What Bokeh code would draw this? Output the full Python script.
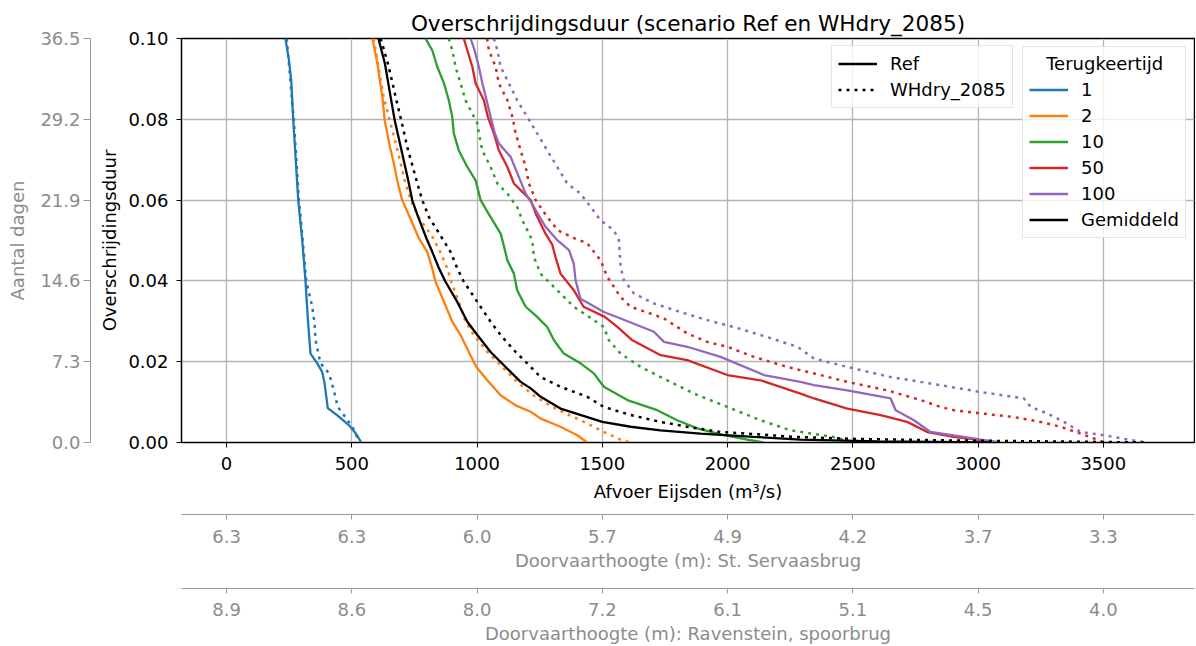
from bokeh.plotting import figure
from bokeh.models import Range1d, LinearAxis, FixedTicker, PrintfTickFormatter, Legend, LegendItem
from bokeh.embed import file_html
from bokeh.resources import INLINE

FONT = "DejaVu Sans"
GRAY = "#8c8c8c"

# ---------------- data ----------------
x_ticks = [0, 500, 1000, 1500, 2000, 2500, 3000, 3500]
y_ticks = [0.0, 0.02, 0.04, 0.06, 0.08, 0.10]
day_ticks = [0.0, 7.3, 14.6, 21.9, 29.2, 36.5]
servaas_labels = ["6.3", "6.3", "6.0", "5.7", "4.9", "4.2", "3.7", "3.3"]
ravenstein_labels = ["8.9", "8.6", "8.0", "7.2", "6.1", "5.1", "4.5", "4.0"]

return_periods = ["1", "2", "10", "50", "100"]

# Ref scenario: discharge (m3/s) and exceedance duration (fraction of year)
ref_q_1 = [235, 249, 258, 266, 276, 286, 302, 315, 325, 335, 362, 382, 391, 404, 442, 488, 515, 538]
ref_d_1 = [0.1, 0.0946, 0.0897, 0.08, 0.07, 0.06, 0.05, 0.04, 0.03, 0.022, 0.0196, 0.0174, 0.0147, 0.0085, 0.0067, 0.0043, 0.0023, 0.0]

ref_q_2 = [582, 602, 622, 631, 652, 668, 681, 701, 731, 768, 801, 821, 834, 868, 901, 934, 967, 997, 1047, 1094,
           1154, 1214, 1254, 1333, 1400, 1440]
ref_d_2 = [0.1, 0.0938, 0.0855, 0.0798, 0.0732, 0.069, 0.0649, 0.06, 0.0558, 0.0505, 0.0472, 0.0431, 0.0398, 0.0348,
           0.0299, 0.0266, 0.0224, 0.0187, 0.015, 0.0117, 0.0092, 0.0076, 0.0059, 0.0039, 0.0018, 0.0]

ref_q_10 = [794, 821, 841, 868, 887, 901, 907, 927, 961, 994, 1014, 1054, 1094, 1101, 1121, 1147, 1160, 1194, 1240, 1280,
            1307, 1346, 1413, 1466, 1506, 1600, 1719, 1799, 1879, 1985, 2079, 2145]
ref_d_10 = [0.1, 0.0971, 0.093, 0.0889, 0.0847, 0.0806, 0.0765, 0.0723, 0.0682, 0.0649, 0.06, 0.0558, 0.0517, 0.0501,
            0.0451, 0.0418, 0.0377, 0.0336, 0.0311, 0.0286, 0.0253, 0.022, 0.0196, 0.0171, 0.0138, 0.0105, 0.008,
            0.0055, 0.0035, 0.0018, 0.0007, 0.0]

ref_q_50 = [947, 961, 981, 994, 1027, 1043, 1067, 1087, 1121, 1147, 1214, 1234, 1273, 1300, 1313, 1333, 1386, 1425, 1510, 1560,
            1620, 1733, 1839, 1999, 2132, 2291, 2345, 2478, 2611, 2717, 2797, 2903, 3010, 3063]
ref_d_50 = [0.1, 0.0971, 0.093, 0.0889, 0.0847, 0.0806, 0.0765, 0.0723, 0.0682, 0.0641, 0.06, 0.0567, 0.0517, 0.049,
            0.0459, 0.0418, 0.0377, 0.0336, 0.0311, 0.0286, 0.0253, 0.0216, 0.0204, 0.0167, 0.0154, 0.0121, 0.0109,
            0.0084, 0.0068, 0.0051, 0.0026, 0.0014, 0.0006, 0.0]

ref_q_100 = [974, 990, 1007, 1021, 1038, 1054, 1071, 1087, 1134, 1167, 1194, 1227, 1273, 1320, 1367, 1386, 1393, 1413, 1506, 1573,
             1706, 1746, 1839, 1972, 2145, 2291, 2345, 2478, 2651, 2671, 2744, 2810, 2943, 3010, 3090]
ref_d_100 = [0.1, 0.0971, 0.093, 0.0889, 0.0847, 0.0806, 0.0765, 0.074, 0.0707, 0.0657, 0.0616, 0.0583, 0.0534, 0.0501,
             0.0476, 0.0443, 0.0402, 0.0356, 0.0323, 0.0307, 0.0274, 0.0249, 0.0237, 0.0212, 0.0167, 0.015, 0.0142,
             0.0129, 0.0109, 0.008, 0.0055, 0.0026, 0.0014, 0.0007, 0.0]

ref_q_mean = [606, 632, 655, 671, 695, 725, 741, 765, 798, 821, 848, 874, 921, 961, 1001, 1054, 1114, 1174, 1214, 1254,
              1333, 1440, 1500, 1613, 1732, 1892, 2104, 2291, 2600, 3050]
ref_d_mean = [0.1, 0.0938, 0.0855, 0.0798, 0.0732, 0.0649, 0.06, 0.0558, 0.0505, 0.0472, 0.0431, 0.0398, 0.0348, 0.0299,
              0.0266, 0.0224, 0.0187, 0.015, 0.0134, 0.0113, 0.0084, 0.0063, 0.0051, 0.0039, 0.003, 0.0022, 0.0014,
              0.0007, 0.0003, 0.0]

# WHdry_2085 scenario
wh_q_1 = [240, 268, 289, 304, 318, 342, 351, 355, 375, 409, 428, 444, 468, 502, 515, 528]
wh_d_1 = [0.1, 0.08, 0.06, 0.05, 0.04, 0.0336, 0.0295, 0.0253, 0.0196, 0.0171, 0.0129, 0.0088, 0.0068, 0.0039, 0.0023, 0.0]

wh_q_2 = [587, 627, 651, 679, 711, 735, 766, 826, 854, 881, 897, 927, 954, 987, 1041, 1101, 1160, 1233, 1313, 1440,
          1506, 1573, 1613]
wh_d_2 = [0.1, 0.0855, 0.0798, 0.0732, 0.0649, 0.06, 0.0558, 0.0505, 0.047, 0.0431, 0.0398, 0.0348, 0.0299, 0.0266,
          0.0224, 0.0187, 0.015, 0.0113, 0.0084, 0.0047, 0.0026, 0.0007, 0.0]

wh_q_10 = [887, 901, 914, 934, 954, 981, 1001, 1007, 1021, 1054, 1081, 1121, 1160, 1181, 1207, 1220, 1227, 1253, 1320, 1386,
           1466, 1506, 1526, 1573, 1653, 1759, 1866, 1999, 2132, 2252, 2420, 2503]
wh_d_10 = [0.1, 0.0971, 0.093, 0.0889, 0.0847, 0.0814, 0.079, 0.0765, 0.0723, 0.0682, 0.0641, 0.0616, 0.0583, 0.055,
           0.0517, 0.0501, 0.0459, 0.0418, 0.0377, 0.0336, 0.0303, 0.0286, 0.0253, 0.022, 0.0187, 0.0154, 0.0121,
           0.0088, 0.0055, 0.003, 0.0014, 0.0]

wh_q_50 = [1040, 1047, 1074, 1087, 1121, 1141, 1154, 1174, 1194, 1207, 1234, 1280, 1323, 1390, 1440, 1493, 1520, 1573, 1613, 1693,
           1746, 1839, 1919, 1999, 2105, 2238, 2345, 2478, 2638, 2771, 2850, 2903, 3010, 3143, 3249, 3329, 3409, 3462, 3502]
wh_d_50 = [0.1, 0.0971, 0.093, 0.0889, 0.0847, 0.0806, 0.0765, 0.0723, 0.0682, 0.0641, 0.06, 0.0558, 0.0525, 0.0505,
           0.0493, 0.0451, 0.041, 0.036, 0.0336, 0.0319, 0.0307, 0.027, 0.0249, 0.0237, 0.0212, 0.0187, 0.0171, 0.015,
           0.0129, 0.0105, 0.0088, 0.008, 0.0072, 0.0063, 0.0051, 0.0039, 0.0022, 0.001, 0.0]

wh_q_100 = [1067, 1081, 1094, 1127, 1160, 1200, 1240, 1280, 1320, 1360, 1413, 1453, 1493, 1546, 1566, 1573, 1586, 1626, 1706, 1812,
            1919, 2025, 2158, 2278, 2345, 2478, 2651, 2810, 3010, 3183, 3210, 3276, 3343, 3409, 3502, 3609, 3675]
wh_d_100 = [0.1, 0.0971, 0.093, 0.0889, 0.0847, 0.0806, 0.0765, 0.0723, 0.0682, 0.0641, 0.0616, 0.0583, 0.055, 0.0525,
            0.0501, 0.0435, 0.0402, 0.0369, 0.0344, 0.0323, 0.0303, 0.0286, 0.0261, 0.0237, 0.0208, 0.0187, 0.0162,
            0.0146, 0.0125, 0.0109, 0.0088, 0.0072, 0.0051, 0.0026, 0.0018, 0.0006, 0.0]

wh_q_mean = [615, 644, 675, 697, 721, 758, 781, 808, 861, 894, 921, 947, 1001, 1054, 1094, 1154, 1200, 1253, 1333, 1440,
             1506, 1613, 1732, 1839, 1972, 2104, 2263, 2500, 2900, 3400, 3680]
wh_d_mean = [0.1, 0.0938, 0.0855, 0.0798, 0.0732, 0.0649, 0.06, 0.0558, 0.0505, 0.0472, 0.0431, 0.0398, 0.0348, 0.0299,
             0.0266, 0.0224, 0.0196, 0.0162, 0.0138, 0.0113, 0.0088, 0.0068, 0.0051, 0.0039, 0.0026, 0.0021, 0.0014,
             0.0009, 0.0005, 0.0002, 0.0]

colors = ["#1f77b4", "#ff7f0e", "#2ca02c", "#d62728", "#9467bd"]
ref_series = [(ref_q_1, ref_d_1), (ref_q_2, ref_d_2), (ref_q_10, ref_d_10), (ref_q_50, ref_d_50), (ref_q_100, ref_d_100)]
wh_series = [(wh_q_1, wh_d_1), (wh_q_2, wh_d_2), (wh_q_10, wh_d_10), (wh_q_50, wh_d_50), (wh_q_100, wh_d_100)]

# ---------------- figure ----------------
p = figure(frame_width=1013, frame_height=404,
           x_range=Range1d(-180, 3864), y_range=Range1d(0, 0.1),
           output_backend="svg", toolbar_location=None,
           min_border_left=181, min_border_right=1, min_border_top=38, min_border_bottom=0,
           background_fill_color="white", border_fill_color="white",
           outline_line_color="black", outline_line_width=1.5)
p.extra_y_ranges = {"days": Range1d(0, 36.5)}

p.title.text = "Overschrijdingsduur (scenario Ref en WHdry_2085)"
p.title.align = "center"
p.title.text_font = FONT
p.title.text_font_size = "21.6px"
p.title.text_font_style = "normal"
p.title.text_color = "black"
p.title.standoff = 6

for g in (p.xgrid[0], p.ygrid[0]):
    g.grid_line_color = "#b4b4b4"
    g.grid_line_width = 1.3
p.xgrid[0].ticker = FixedTicker(ticks=x_ticks)
p.ygrid[0].ticker = FixedTicker(ticks=y_ticks)

xa = p.below[0]
ya = p.left[0]

def style_axis(ax, color, line_color, tick_color):
    ax.axis_line_color = line_color
    ax.major_tick_line_color = tick_color
    ax.minor_tick_line_color = None
    ax.major_tick_out = 5
    ax.major_tick_in = 0
    ax.major_label_text_font = FONT
    ax.major_label_text_font_size = "18px"
    ax.major_label_text_color = color
    ax.axis_label_text_font = FONT
    ax.axis_label_text_font_size = "18px"
    ax.axis_label_text_font_style = "normal"
    ax.axis_label_text_color = color

style_axis(xa, "black", "black", "black")
xa.ticker = FixedTicker(ticks=x_ticks)
xa.axis_label = "Afvoer Eijsden (m³/s)"
xa.major_label_standoff = 9
xa.axis_label_standoff = 8

style_axis(ya, "black", "black", "black")
ya.ticker = FixedTicker(ticks=y_ticks)
ya.formatter = PrintfTickFormatter(format="%.2f")
ya.axis_label = "Overschrijdingsduur"
ya.major_label_standoff = 8
ya.axis_label_standoff = 5


def spacer(size):
    return LinearAxis(ticker=FixedTicker(ticks=[]), axis_line_color=None,
                      major_tick_line_color=None, minor_tick_line_color=None,
                      major_tick_out=0, major_tick_in=0, minor_tick_out=0, minor_tick_in=0,
                      major_label_standoff=0, axis_label="\u00a0", axis_label_text_alpha=0,
                      axis_label_text_font_size=f"{size}px", axis_label_standoff=0)

# left: days axis
days_ax = LinearAxis(y_range_name="days", ticker=FixedTicker(ticks=day_ticks),
                     formatter=PrintfTickFormatter(format="%.1f"))
style_axis(days_ax, GRAY, "#9a9a9a", "#9a9a9a")
days_ax.major_tick_out = 7
days_ax.major_label_standoff = 3
days_ax.axis_label = "Aantal dagen"
days_ax.axis_label_standoff = 9
p.add_layout(spacer(3), "left")
p.add_layout(days_ax, "left")

# bottom: bridge clearance axes
servaas_ax = LinearAxis(ticker=FixedTicker(ticks=x_ticks),
                        major_label_overrides={t: l for t, l in zip(x_ticks, servaas_labels)})
style_axis(servaas_ax, GRAY, "#9a9a9a", "#9a9a9a")
servaas_ax.axis_label = "Doorvaarthoogte (m): St. Servaasbrug"
servaas_ax.major_label_standoff = 10
servaas_ax.axis_label_standoff = 4

raven_ax = LinearAxis(ticker=FixedTicker(ticks=x_ticks),
                      major_label_overrides={t: l for t, l in zip(x_ticks, ravenstein_labels)})
style_axis(raven_ax, GRAY, "#9a9a9a", "#9a9a9a")
raven_ax.axis_label = "Doorvaarthoogte (m): Ravenstein, spoorbrug"
raven_ax.major_label_standoff = 9
raven_ax.axis_label_standoff = 4

p.add_layout(spacer(7), "below")
p.add_layout(servaas_ax, "below")
p.add_layout(spacer(11), "below")
p.add_layout(raven_ax, "below")

# ---------------- lines ----------------
ref_renderers = []
for (q, d), c in zip(ref_series, colors):
    n = min(len(q), len(d))
    ref_renderers.append(p.line(q[:n], d[:n], line_color=c, line_width=2.3))
for (q, d), c in zip(wh_series, colors):
    n = min(len(q), len(d))
    p.line(q[:n], d[:n], line_color=c, line_width=2.5, line_dash="3 5")

n = min(len(ref_q_mean), len(ref_d_mean))
r_mean_ref = p.line(ref_q_mean[:n], ref_d_mean[:n], line_color="black", line_width=2.3)
n = min(len(wh_q_mean), len(wh_d_mean))
r_mean_wh = p.line(wh_q_mean[:n], wh_d_mean[:n], line_color="black", line_width=2.5, line_dash="3 5")

# ---------------- legends ----------------
def style_legend(lg):
    lg.label_text_font = FONT
    lg.label_text_font_size = "18px"
    lg.label_text_color = "black"
    lg.glyph_width = 39
    lg.glyph_height = 23
    lg.label_height = 23
    lg.label_standoff = 13
    lg.spacing = 3
    lg.padding = 6
    lg.border_line_color = "#cccccc"
    lg.border_line_width = 1
    lg.background_fill_color = "white"
    lg.background_fill_alpha = 0.8

leg1 = Legend(items=[LegendItem(label="Ref", renderers=[r_mean_ref]),
                     LegendItem(label="WHdry_2085", renderers=[r_mean_wh])],
              location=(650, 334))
style_legend(leg1)

leg2 = Legend(items=[LegendItem(label=t, renderers=[r]) for t, r in zip(return_periods, ref_renderers)]
              + [LegendItem(label="Gemiddeld", renderers=[r_mean_ref])],
              location=(841, 204), title="\u00a0\u00a0\u00a0Terugkeertijd")
style_legend(leg2)
leg2.title_text_font = FONT
leg2.title_text_font_size = "18px"
leg2.title_text_font_style = "normal"
leg2.title_text_color = "black"
leg2.title_standoff = 4

p.add_layout(leg1)
p.add_layout(leg2)

open("out.html", "w").write(file_html(p, INLINE))
